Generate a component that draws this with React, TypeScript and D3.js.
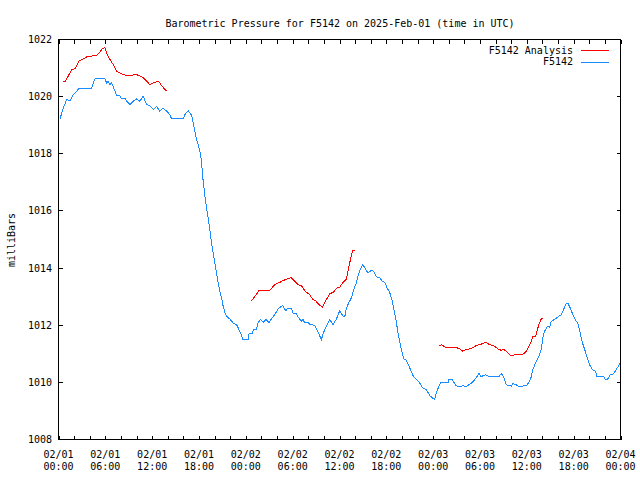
import React from "react";
import * as d3 from "d3";

// Hours since 2025-02-01 00:00 UTC, pressure in mb
const obsHours = [0.19, 0.61, 1.05, 1.47, 1.89, 2.33, 2.66, 4.25, 4.45, 4.67, 5.95, 6.17, 6.37, 6.59, 6.81, 7.23, 7.45, 7.87, 8.09, 8.51, 8.73, 9.15, 9.57, 10.01, 10.43, 10.85, 11.29, 11.71, 12.13, 12.57, 12.99, 13.41, 13.85, 14.27, 14.49, 15.97, 16.19, 16.61, 17.05, 17.25, 17.47, 17.69, 17.89, 18.11, 18.33, 18.46, 18.62, 18.75, 18.97, 19.17, 19.39, 19.61, 19.81, 20.03, 20.25, 20.45, 20.67, 20.89, 21.09, 21.31, 21.53, 21.95, 22.37, 22.89, 23.14, 23.45, 23.58, 24.29, 24.42, 24.86, 24.93, 25.37, 25.57, 25.88, 26.21, 26.56, 26.98, 27.29, 27.71, 28.13, 28.70, 29.12, 29.41, 29.85, 30.05, 30.49, 30.69, 31.13, 31.33, 31.55, 31.97, 32.19, 32.83, 33.13, 33.47, 33.69, 33.89, 34.33, 34.75, 35.17, 35.61, 36.03, 36.45, 36.67, 36.89, 37.22, 37.53, 37.82, 38.17, 38.37, 38.68, 39.01, 39.36, 39.65, 40.09, 40.38, 40.73, 41.15, 41.50, 41.79, 42.09, 42.43, 42.73, 42.94, 43.16, 43.37, 43.49, 43.71, 43.93, 44.22, 44.57, 44.99, 45.41, 45.85, 46.27, 46.62, 47.13, 47.55, 47.90, 48.19, 48.41, 48.74, 48.92, 49.89, 50.02, 50.46, 50.88, 51.39, 51.81, 52.16, 52.58, 53.02, 53.53, 53.86, 54.17, 54.37, 54.72, 55.23, 56.42, 56.73, 57.02, 57.37, 57.57, 58.01, 58.18, 58.65, 58.88, 59.29, 59.58, 59.93, 60.26, 60.57, 60.77, 61.21, 61.54, 61.85, 62.05, 62.27, 62.69, 62.91, 63.13, 63.55, 63.97, 64.41, 64.70, 65.05, 65.25, 65.56, 65.89, 66.24, 66.53, 66.84, 67.10, 67.39, 67.69, 68.03, 68.38, 68.80, 68.97, 69.82, 70.08, 70.34, 70.68, 71.10, 71.45, 71.78, 71.96];
const obsValues = [1019.22, 1019.6, 1019.9, 1019.85, 1020.07, 1020.19, 1020.3, 1020.3, 1020.48, 1020.62, 1020.62, 1020.48, 1020.54, 1020.42, 1020.48, 1020.19, 1020.04, 1020.04, 1019.92, 1019.95, 1019.84, 1019.72, 1019.84, 1019.92, 1019.84, 1020.02, 1019.72, 1019.68, 1019.55, 1019.66, 1019.49, 1019.6, 1019.49, 1019.37, 1019.22, 1019.22, 1019.37, 1019.51, 1019.35, 1019.08, 1018.79, 1018.5, 1018.33, 1018.09, 1017.74, 1017.22, 1016.87, 1016.52, 1016.11, 1015.76, 1015.35, 1014.88, 1014.53, 1014.18, 1013.83, 1013.48, 1013.19, 1012.96, 1012.67, 1012.45, 1012.31, 1012.22, 1012.08, 1011.99, 1011.83, 1011.64, 1011.5, 1011.5, 1011.7, 1011.72, 1011.83, 1011.85, 1012.08, 1012.2, 1012.1, 1012.2, 1012.1, 1012.22, 1012.37, 1012.57, 1012.69, 1012.51, 1012.6, 1012.6, 1012.41, 1012.41, 1012.29, 1012.14, 1012.2, 1012.08, 1012.1, 1012.02, 1012.0, 1011.83, 1011.62, 1011.5, 1011.7, 1011.97, 1012.2, 1012.02, 1012.22, 1012.51, 1012.31, 1012.29, 1012.6, 1012.8, 1012.96, 1013.25, 1013.48, 1013.72, 1013.97, 1014.12, 1013.95, 1013.83, 1013.92, 1013.88, 1013.69, 1013.66, 1013.54, 1013.5, 1013.31, 1013.15, 1012.87, 1012.6, 1012.3, 1011.95, 1011.73, 1011.44, 1011.15, 1010.82, 1010.77, 1010.51, 1010.24, 1010.1, 1009.98, 1009.81, 1009.75, 1009.54, 1009.46, 1009.4, 1009.63, 1009.87, 1009.98, 1009.98, 1010.1, 1010.1, 1009.89, 1009.84, 1009.89, 1009.84, 1009.92, 1010.0, 1010.16, 1010.31, 1010.19, 1010.24, 1010.26, 1010.19, 1010.19, 1010.31, 1010.19, 1009.92, 1009.89, 1009.87, 1009.95, 1009.92, 1009.86, 1009.84, 1009.88, 1009.88, 1010.0, 1010.19, 1010.45, 1010.74, 1010.89, 1011.15, 1011.56, 1011.79, 1011.97, 1011.92, 1012.14, 1012.2, 1012.29, 1012.37, 1012.55, 1012.76, 1012.78, 1012.6, 1012.37, 1012.17, 1012.08, 1011.73, 1011.4, 1011.17, 1010.91, 1010.62, 1010.45, 1010.39, 1010.22, 1010.22, 1010.1, 1010.1, 1010.27, 1010.3, 1010.45, 1010.59, 1010.7];

// Analysis series: three separate runs
const anaHours1 = [0.61, 0.87, 1.25, 1.69, 2.11, 2.66, 3.17, 3.61, 4.25, 4.89, 5.31, 5.66, 5.95, 6.17, 6.59, 7.01, 7.45, 7.87, 8.29, 8.93, 9.37, 9.92, 10.43, 10.85, 11.29, 11.71, 12.13, 12.57, 12.86, 13.21, 13.63, 13.93];
const anaValues1 = [1020.54, 1020.54, 1020.72, 1020.95, 1020.98, 1021.26, 1021.32, 1021.39, 1021.42, 1021.44, 1021.56, 1021.69, 1021.71, 1021.53, 1021.3, 1021.12, 1020.89, 1020.83, 1020.78, 1020.72, 1020.75, 1020.78, 1020.72, 1020.66, 1020.54, 1020.42, 1020.48, 1020.52, 1020.52, 1020.39, 1020.25, 1020.19];
const anaHours2 = [24.73, 25.15, 25.70, 27.07, 27.71, 28.35, 28.77, 29.41, 29.85, 30.27, 30.69, 31.13, 31.68, 32.10, 32.54, 32.96, 33.38, 33.82, 34.33, 34.75, 35.17, 35.69, 36.03, 36.45, 36.89, 37.09, 37.31, 37.53, 37.73, 37.95];
const anaValues2 = [1012.86, 1013.0, 1013.22, 1013.22, 1013.42, 1013.5, 1013.56, 1013.64, 1013.66, 1013.54, 1013.42, 1013.38, 1013.16, 1013.1, 1012.92, 1012.85, 1012.72, 1012.64, 1012.9, 1013.1, 1013.15, 1013.3, 1013.33, 1013.5, 1013.62, 1013.89, 1014.18, 1014.47, 1014.62, 1014.62];
const anaHours3 = [48.74, 49.05, 49.69, 51.05, 51.39, 51.81, 52.25, 52.67, 53.09, 53.53, 54.17, 54.72, 55.23, 55.87, 56.29, 56.73, 57.02, 57.37, 57.88, 58.43, 59.29, 59.58, 59.93, 60.26, 60.57, 60.77, 61.12, 61.29, 61.54, 61.85, 62.05];
const anaValues3 = [1011.27, 1011.32, 1011.21, 1011.21, 1011.17, 1011.09, 1011.15, 1011.17, 1011.21, 1011.29, 1011.34, 1011.4, 1011.32, 1011.27, 1011.17, 1011.12, 1011.15, 1011.09, 1010.94, 1010.96, 1010.96, 1011.0, 1011.09, 1011.27, 1011.44, 1011.59, 1011.6, 1011.79, 1012.02, 1012.22, 1012.22];

const yTicks = [1008, 1010, 1012, 1014, 1016, 1018, 1020, 1022];
const seriesNames = ["F5142 Analysis", "F5142"];
const seriesColors = ["#ff0000", "#1a8cff"];
const titleText = "Barometric Pressure for F5142 on 2025-Feb-01 (time in UTC)";
const yLabel = "milliBars";

const START = Date.UTC(2025, 1, 1, 0, 0);
const END = Date.UTC(2025, 1, 4, 0, 0);
const toDate = (h: number) => new Date(START + h * 3600 * 1000);

const FONT = "'DejaVu Sans Mono', 'Liberation Mono', monospace";

export default function App() {
  const W = 640, H = 480;
  const L = 58.5, R = 620.5, T = 39.5, B = 439.5;
  const x = d3.scaleUtc().domain([new Date(START), new Date(END)]).range([L, R]);
  const y = d3.scaleLinear().domain([1008, 1022]).range([B, T]);

  const line = d3
    .line<[number, number]>()
    .x((d) => x(toDate(d[0])))
    .y((d) => y(d[1]));

  const zip = (a: number[], b: number[]) => a.map((h, i) => [h, b[i]] as [number, number]);
  const obs = zip(obsHours, obsValues);
  const anaSegs = [zip(anaHours1, anaValues1), zip(anaHours2, anaValues2), zip(anaHours3, anaValues3)];

  const minorTicks = d3.utcHour.every(2)!.range(new Date(START), new Date(END + 1));
  const labelTicks = d3.utcHour.every(6)!.range(new Date(START), new Date(END + 1));
  const fmtDate = d3.utcFormat("%m/%d");
  const fmtTime = d3.utcFormat("%H:%M");
  const tl = 4;

  return (
    <svg
      width={W}
      height={H}
      style={{ position: "absolute", left: 0, top: 0, background: "#fff" }}
      fontFamily={FONT}
      fontSize={10}
    >
      <rect x={0} y={0} width={W} height={H} fill="#fff" />
      <text x={340} y={27} textAnchor="middle" fill="#000">{titleText}</text>
      <text transform="translate(15,240) rotate(-90)" textAnchor="middle" fill="#000">{yLabel}</text>

      <g shapeRendering="crispEdges" stroke="#000" strokeWidth={1}>
        {minorTicks.map((d, i) => (
          <g key={"xt" + i}>
            <line x1={Math.round(x(d)) + 0.5} x2={Math.round(x(d)) + 0.5} y1={B} y2={B - tl} />
            <line x1={Math.round(x(d)) + 0.5} x2={Math.round(x(d)) + 0.5} y1={T} y2={T + tl} />
          </g>
        ))}
        {yTicks.map((v, i) => (
          <g key={"yt" + i}>
            <line x1={L} x2={L + tl} y1={y(v)} y2={y(v)} />
            <line x1={R} x2={R - tl} y1={y(v)} y2={y(v)} />
          </g>
        ))}
      </g>

      {yTicks.map((v, i) => (
        <text key={"yl" + i} x={52} y={y(v) + 3.5} textAnchor="end" fill="#000">{v}</text>
      ))}
      {labelTicks.map((d, i) => (
        <g key={"xl" + i}>
          <text x={x(d)} y={458} textAnchor="middle" fill="#000">{fmtDate(d)}</text>
          <text x={x(d)} y={470} textAnchor="middle" fill="#000">{fmtTime(d)}</text>
        </g>
      ))}

      {anaSegs.map((seg, i) => (
        <path key={"a" + i} d={line(seg) || ""} fill="none" stroke={seriesColors[0]} strokeWidth={1} shapeRendering="crispEdges" />
      ))}
      <path d={line(obs) || ""} fill="none" stroke={seriesColors[1]} strokeWidth={1} shapeRendering="crispEdges" />

      <rect x={L} y={T} width={R - L} height={B - T} fill="none" stroke="#000" strokeWidth={1} shapeRendering="crispEdges" />

      {seriesNames.map((name, i) => (
        <g key={"lg" + i}>
          <text x={573} y={53.5 + i * 11.5} textAnchor="end" fill="#000">{name}</text>
          <line x1={581} x2={609} y1={50.5 + i * 11.5} y2={50.5 + i * 11.5} stroke={seriesColors[i]} strokeWidth={1} shapeRendering="crispEdges" />
        </g>
      ))}
    </svg>
  );
}
